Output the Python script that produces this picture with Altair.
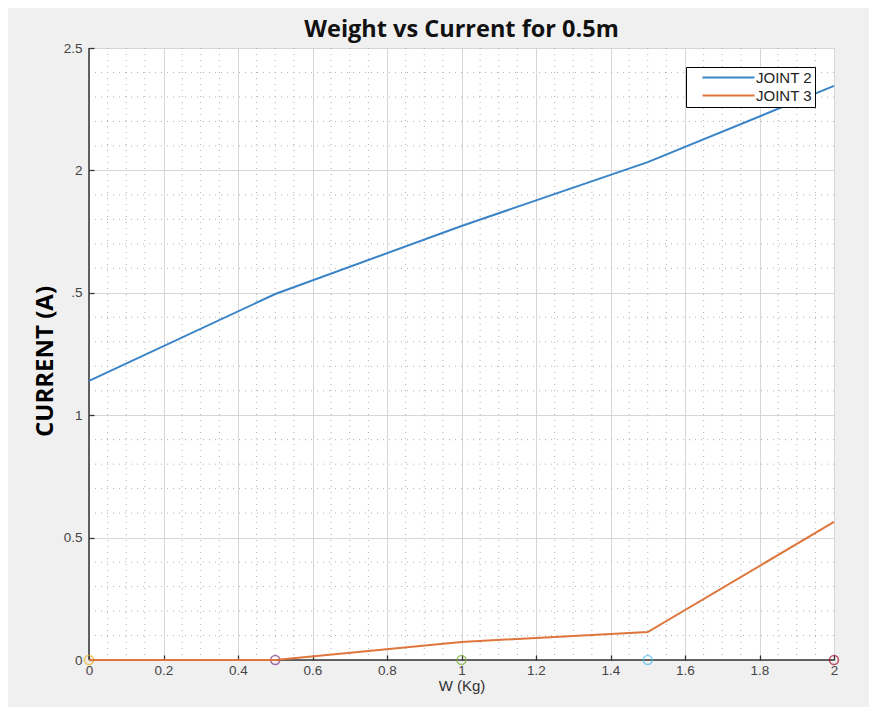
import altair as alt
import pandas as pd

# ---- data ----
W = [0, 0.5, 1, 1.5, 2]
joint2 = [1.14, 1.495, 1.773, 2.034, 2.345]
joint3 = [0.0, 0.0, 0.074, 0.114, 0.564]
series_names = ["JOINT 2", "JOINT 3"]
series_colors = ["#3a84c8", "#de763c"]
marker_x = [0, 0.5, 1, 1.5, 2]
marker_y = [0, 0, 0, 0, 0]
marker_colors = ["#EDB120", "#7E2F8E", "#77AC30", "#4DBEEE", "#A2142F"]
x_ticks = [0, 0.2, 0.4, 0.6, 0.8, 1, 1.2, 1.4, 1.6, 1.8, 2]
y_ticks = [0, 0.5, 1, 1.5, 2, 2.5]
y_tick_labels = ["0", "0.5", "1", ".5", "2", "2.5"]
x_minor = [round(k * 0.05, 2) for k in range(1, 40) if k % 4 != 0]
y_minor = [round(k * 0.1, 1) for k in range(1, 25) if k % 5 != 0]

lines_df = pd.DataFrame({
    "W": W * 2,
    "current": joint2 + joint3,
    "series": [series_names[0]] * len(W) + [series_names[1]] * len(W),
})
markers_df = pd.DataFrame({"W": marker_x, "current": marker_y, "c": marker_colors})

xs = alt.Scale(domain=[0, 2], nice=False, zero=False)
ys = alt.Scale(domain=[0, 2.5], nice=False)

label_map = "{" + ",".join(f"'{v}':'{l}'" for v, l in zip(y_ticks, y_tick_labels)) + "}"

x_axis = alt.Axis(
    values=x_ticks, format=".1~f", title="W (Kg)", grid=True,
    gridColor="#d6d6d6", domain=False, ticks=True, tickSize=5, tickColor="#333333",
    tickWidth=1.3, offset=-5,
    labelFont="Liberation Sans", labelFontSize=13.5, labelColor="#444444",
    labelPadding=3, titleFont="Liberation Sans", titleFontSize=15,
    titleFontWeight="normal", titleColor="#333333", titlePadding=2,
    labelFlush=False)
y_axis = alt.Axis(
    values=y_ticks, labelExpr=f"{label_map}[toString(datum.value)]",
    title="CURRENT (A)", grid=True, gridColor="#d6d6d6",
    domain=False, ticks=True, tickSize=5, tickColor="#333333", tickWidth=1.3,
    offset=-5,
    labelFont="Liberation Sans", labelFontSize=13.5, labelColor="#444444",
    labelPadding=7, titleFont="Open Sans", titleFontSize=24,
    titleFontWeight="bold", titleColor="#000000", titleX=-37, titleY=313,
    labelFlush=False)

minor_x = alt.Chart(pd.DataFrame({"x": x_minor})).mark_rule(
    strokeDash=[1, 5], color="#b0b0b0", strokeWidth=1
).encode(x=alt.X("x:Q", scale=xs, axis=x_axis))

minor_y = alt.Chart(pd.DataFrame({"y": y_minor})).mark_rule(
    strokeDash=[1, 5], color="#b0b0b0", strokeWidth=1
).encode(y=alt.Y("y:Q", scale=ys, axis=y_axis))

# axis base lines at the scale minimum (x = 0, y = 0)
x_base = alt.Chart(pd.DataFrame({"v": [0]})).mark_rule(
    color="#333333", strokeWidth=1.5
).encode(x=alt.X("v:Q", scale=xs, axis=x_axis))
y_base = alt.Chart(pd.DataFrame({"v": [0]})).mark_rule(
    color="#333333", strokeWidth=1.5
).encode(y=alt.Y("v:Q", scale=ys, axis=y_axis))

lines = alt.Chart(lines_df).mark_line(strokeWidth=2).encode(
    x=alt.X("W:Q", scale=xs, axis=x_axis),
    y=alt.Y("current:Q", scale=ys, axis=y_axis),
    color=alt.Color("series:N", scale=alt.Scale(domain=series_names, range=series_colors),
                    legend=alt.Legend(
                        title=None, orient="none", legendX=597, legendY=19,
                        strokeColor="#000000", fillColor="#ffffff", padding=3,
                        symbolType="M-5.2,0H5.2", symbolSize=100, symbolStrokeWidth=2,
                        symbolOffset=32, labelOffset=20,
                        labelFont="Liberation Sans", labelFontSize=15,
                        labelColor="#222222", rowPadding=2, cornerRadius=0)),
)

markers = alt.Chart(markers_df).mark_point(
    shape="circle", filled=False, size=80, strokeWidth=1.6
).encode(
    x=alt.X("W:Q", scale=xs, axis=x_axis),
    y=alt.Y("current:Q", scale=ys, axis=y_axis),
    stroke=alt.Stroke("c:N", scale=None, legend=None),
)

chart = alt.layer(minor_x, minor_y, x_base, y_base, markers, lines).properties(
    width=745, height=612,
    title=alt.TitleParams("Weight vs Current for 0.5m", font="Open Sans", fontSize=23.5,
                          fontWeight="bold", color="#111111", offset=0),
    background="#f0f0f0",
    autosize=alt.AutoSizeParams(type="none"),
    padding={"left": 81, "top": 40, "right": 35, "bottom": 47},
).configure_view(fill="#ffffff", stroke="#c4c4c4")

chart.save("out.html", embed_options={"renderer": "svg", "actions": False})
